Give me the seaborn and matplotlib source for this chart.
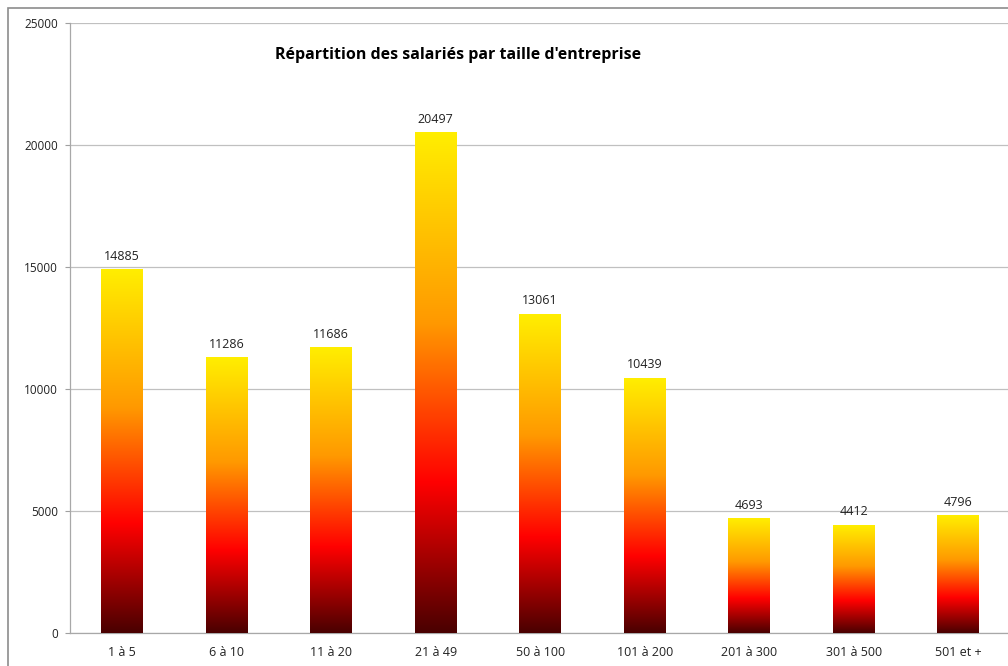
import numpy as np
import pandas as pd
import matplotlib
matplotlib.use('Agg')
import matplotlib.pyplot as plt
import seaborn as sns
from matplotlib.colors import LinearSegmentedColormap
from matplotlib.patches import Rectangle

categories = ['1 à 5', '6 à 10', '11 à 20', '21 à 49', '50 à 100',
              '101 à 200', '201 à 300', '301 à 500', '501 et +']
salaries = [14885, 11286, 11686, 20497, 13061, 10439, 4693, 4412, 4796]
y_ticks = [0, 5000, 10000, 15000, 20000, 25000]

df = pd.DataFrame({'taille': categories, 'salaries': salaries})

sns.set_style('white')
plt.rcParams['font.family'] = ['Open Sans', 'DejaVu Sans']

fig = plt.figure(figsize=(10.08, 6.66), dpi=100)
ax = fig.add_axes([0.0694, 0.0495, 0.933, 0.916])

sns.barplot(data=df, x='taille', y='salaries', width=0.4, color='white',
            ax=ax, zorder=3)

# degrade facon Excel : brun fonce -> rouge -> orange -> jaune
cmap = LinearSegmentedColormap.from_list(
    'excel', [(0.0, '#4a0000'), (0.30, '#ff0000'), (0.62, '#ff9900'), (1.0, '#ffee00')])
grad = np.linspace(0, 1, 256).reshape(-1, 1)
for p in ax.patches:
    x0, w, h = p.get_x(), p.get_width(), p.get_height()
    ax.imshow(grad, cmap=cmap, origin='lower', aspect='auto',
              interpolation='bilinear', extent=[x0, x0 + w, 0, h], zorder=3)
    p.set_facecolor('none')
    p.set_edgecolor('none')

ax.bar_label(ax.containers[0], labels=[str(v) for v in salaries],
             padding=5, fontsize=9, color='#222222')

ax.set_xlim(-0.5, len(categories) - 0.5)
ax.set_ylim(0, 25000)
ax.set_yticks(y_ticks)
ax.set_yticklabels([str(t) for t in y_ticks], fontsize=8.5, color='#222222')
ax.set_xticks(range(len(categories)))
ax.set_xticklabels(categories, fontsize=9, color='#222222')
ax.set_xticks(np.arange(-0.5, len(categories), 1), minor=True)
ax.tick_params(axis='x', which='major', length=0, pad=9)
ax.tick_params(axis='x', which='minor', length=4, color='#a0a0a0', width=0.8)
ax.tick_params(axis='y', length=3.5, color='#a0a0a0', width=0.8, pad=5, left=True)
ax.set_xlabel('')
ax.set_ylabel('')

ax.yaxis.grid(True, color='#c0c0c0', linewidth=0.9, zorder=0)
ax.set_axisbelow(True)
for s in ['top', 'right']:
    ax.spines[s].set_visible(False)
for s in ['left', 'bottom']:
    ax.spines[s].set_color('#a8a8a8')
    ax.spines[s].set_linewidth(0.9)

ax.text(0.4125, 0.947, "Répartition des salariés par taille d'entreprise",
        transform=ax.transAxes, ha='center', va='center',
        fontsize=11.5, fontweight='bold', color='black')

# cadre du graphique
fig.patches.append(Rectangle((8 / 1008, -0.05), 1.2, 1 - 8 / 666 + 0.05,
                             transform=fig.transFigure, fill=False,
                             edgecolor='#8c8c8c', linewidth=1.2))

fig.savefig('out.png', dpi=100)
